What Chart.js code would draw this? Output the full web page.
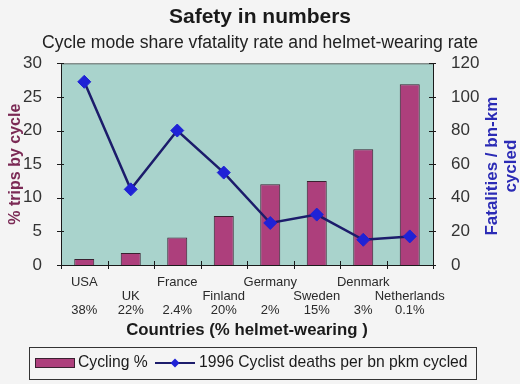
<!DOCTYPE html>
<html>
<head>
<meta charset="utf-8">
<script src="https://cdn.jsdelivr.net/npm/chart.js@4.4.1/dist/chart.umd.min.js"></script>
<style>
  html, body { margin: 0; padding: 0; background: #f4f4f4; }
  #wrap { width: 520px; height: 384px; }
</style>
</head>
<body>
<div id="wrap"><canvas id="myChart" width="520" height="384"></canvas></div>
<script>
// data
const countries = ['USA', 'UK', 'France', 'Finland', 'Germany', 'Sweden', 'Denmark', 'Netherlands'];
const helmetWearing = ['38%', '22%', '2.4%', '20%', '2%', '15%', '3%', '0.1%'];
const cyclingShare = [0.9, 1.8, 4.1, 7.3, 12.0, 12.5, 17.2, 26.9];
const deathsPerBnKm = [109, 45, 80, 55, 25, 30, 15, 17];
const leftTicks = [0, 5, 10, 15, 20, 25, 30];
const rightTicks = [0, 20, 40, 60, 80, 100, 120];

const FONT = "'Liberation Sans', Arial, sans-serif";
const barColor = '#ad3f7c';
const lineColor = '#1c1c6b';
const pointColor = '#1f22d6';

// staggered labels: names alternate between two rows, helmet % on the third
const labels = countries.map(function(c, i){
    return i % 2 === 0 ? [c, '', helmetWearing[i]] : ['', c, helmetWearing[i]];
});

const bgPlugin = {
    id: 'bgPlugin',
    beforeDraw(chart){
        const {ctx, chartArea: a} = chart;
        ctx.save();
        ctx.fillStyle = '#f4f4f4';
        ctx.fillRect(0, 0, chart.width, chart.height);
        ctx.fillStyle = '#a9d3cc';
        ctx.fillRect(a.left, a.top, a.right - a.left, a.bottom - a.top);
        ctx.restore();
    }
};

// tick marks that cross the axis lines, plus top border and right title + legend box
const extrasPlugin = {
    id: 'extrasPlugin',
    afterDraw(chart){
        const {ctx, chartArea: a, scales} = chart;
        ctx.save();
        ctx.strokeStyle = '#666';
        ctx.lineWidth = 1;
        ctx.beginPath();
        ctx.moveTo(a.left, a.top + 0.5);
        ctx.lineTo(a.right, a.top + 0.5);
        ctx.stroke();

        ctx.strokeStyle = '#1a1a1a';
        ctx.beginPath();
        leftTicks.forEach(function(v){
            const y = Math.round(scales.y.getPixelForValue(v)) + 0.5;
            ctx.moveTo(a.left - 4, y); ctx.lineTo(a.left + 3, y);
        });
        rightTicks.forEach(function(v){
            const y = Math.round(scales.y1.getPixelForValue(v)) + 0.5;
            ctx.moveTo(a.right - 4, y); ctx.lineTo(a.right + 3, y);
        });
        for (let i = 0; i <= countries.length; i++) {
            const x = Math.round(scales.x.getPixelForValue(i - 0.5)) + 0.5;
            ctx.moveTo(x, a.bottom - 4); ctx.lineTo(x, a.bottom + 4);
        }
        ctx.stroke();

        // right axis title, reads bottom to top
        ctx.save();
        ctx.fillStyle = '#2b2bb5';
        ctx.font = 'bold 17px ' + FONT;
        ctx.textAlign = 'center';
        ctx.textBaseline = 'middle';
        const cy = (a.top + a.bottom) / 2 + 2;
        ctx.translate(492, cy);
        ctx.rotate(-Math.PI / 2);
        ctx.fillText('Fatalities / bn-km', 0, 0);
        ctx.fillText('cycled', 0, 19);
        ctx.restore();

        // legend
        const ds = chart.data.datasets;
        const ly = 363;
        ctx.strokeStyle = '#333';
        ctx.strokeRect(29.5, 347.5, 447, 32);
        ctx.fillStyle = ds[0].backgroundColor;
        ctx.fillRect(35, 358, 40, 10);
        ctx.strokeStyle = '#3a2030';
        ctx.strokeRect(35.5, 358.5, 39, 9);
        ctx.fillStyle = '#1a1a1a';
        ctx.font = '15.7px ' + FONT;
        ctx.textAlign = 'left';
        ctx.textBaseline = 'middle';
        ctx.fillText(ds[0].label, 78, ly);
        ctx.strokeStyle = ds[1].borderColor;
        ctx.lineWidth = 2;
        ctx.beginPath();
        ctx.moveTo(155, ly); ctx.lineTo(195, ly);
        ctx.stroke();
        ctx.fillStyle = ds[1].pointBackgroundColor;
        ctx.beginPath();
        ctx.moveTo(175, ly - 4.5); ctx.lineTo(179.5, ly); ctx.lineTo(175, ly + 4.5); ctx.lineTo(170.5, ly);
        ctx.closePath();
        ctx.fill();
        ctx.fillStyle = '#1a1a1a';
        ctx.fillText(ds[1].label, 199, ly);
        ctx.restore();
    }
};

const ctx = document.getElementById('myChart').getContext('2d');
const myChart = new Chart(ctx, {
    type: 'bar',
    data: {
        labels: labels,
        datasets: [{
            type: 'bar',
            label: 'Cycling %',
            data: cyclingShare,
            yAxisID: 'y',
            backgroundColor: barColor,
            borderColor: '#3a2030',
            borderWidth: 1,
            barPercentage: 0.43,
            categoryPercentage: 1,
            order: 1
        }, {
            type: 'line',
            label: '1996 Cyclist deaths per bn pkm cycled',
            data: deathsPerBnKm,
            yAxisID: 'y1',
            borderColor: lineColor,
            borderWidth: 2.5,
            pointStyle: 'rectRot',
            pointRadius: 6.5,
            pointBackgroundColor: pointColor,
            pointBorderColor: pointColor,
            pointBorderWidth: 1,
            tension: 0,
            order: 0
        }]
    },
    options: {
        responsive: false,
        animation: false,
        events: [],
        layout: { padding: { left: 0, right: 0, top: 0, bottom: 39 } },
        plugins: {
            legend: { display: false },
            tooltip: { enabled: false },
            title: {
                display: true,
                text: 'Safety in numbers',
                color: '#1a1a1a',
                font: { family: FONT, size: 21, weight: 'bold', lineHeight: 1.2 },
                padding: { top: 5, bottom: 0 }
            },
            subtitle: {
                display: true,
                text: 'Cycle mode share vfatality rate and helmet-wearing rate',
                color: '#222',
                font: { family: FONT, size: 17.6, lineHeight: 1.2 },
                padding: { top: 2, bottom: 10 }
            }
        },
        scales: {
            x: {
                grid: { display: false },
                border: { display: true, color: '#1a1a1a', width: 1 },
                ticks: {
                    color: '#2a2a2a',
                    font: { family: FONT, size: 13, lineHeight: 1.08 },
                    padding: 2,
                    autoSkip: false,
                    maxRotation: 0
                },
                title: {
                    display: true,
                    text: 'Countries (% helmet-wearing )',
                    color: '#1a1a1a',
                    font: { family: FONT, size: 16.8, weight: 'bold', lineHeight: 1.2 },
                    padding: { top: 0, bottom: 5 }
                },
                afterFit: function(scale){ scale.height = 80; }
            },
            y: {
                position: 'left',
                min: 0,
                max: 30,
                grid: { display: false },
                border: { display: true, color: '#1a1a1a', width: 1 },
                ticks: {
                    stepSize: 5,
                    color: '#333',
                    font: { family: FONT, size: 17 },
                    padding: 11
                },
                title: {
                    display: true,
                    text: '% trips by cycle',
                    color: '#7b2a55',
                    font: { family: FONT, size: 16, weight: 'bold', lineHeight: 1.2 },
                    padding: { top: 6, bottom: 0 }
                },
                afterFit: function(scale){ scale.width = 61; }
            },
            y1: {
                position: 'right',
                min: 0,
                max: 120,
                grid: { display: false },
                border: { display: true, color: '#1a1a1a', width: 1 },
                ticks: {
                    stepSize: 20,
                    color: '#333',
                    font: { family: FONT, size: 17 },
                    padding: 10
                },
                afterFit: function(scale){ scale.width = 87; }
            }
        }
    },
    plugins: [bgPlugin, extrasPlugin]
});
</script>
</body>
</html>
